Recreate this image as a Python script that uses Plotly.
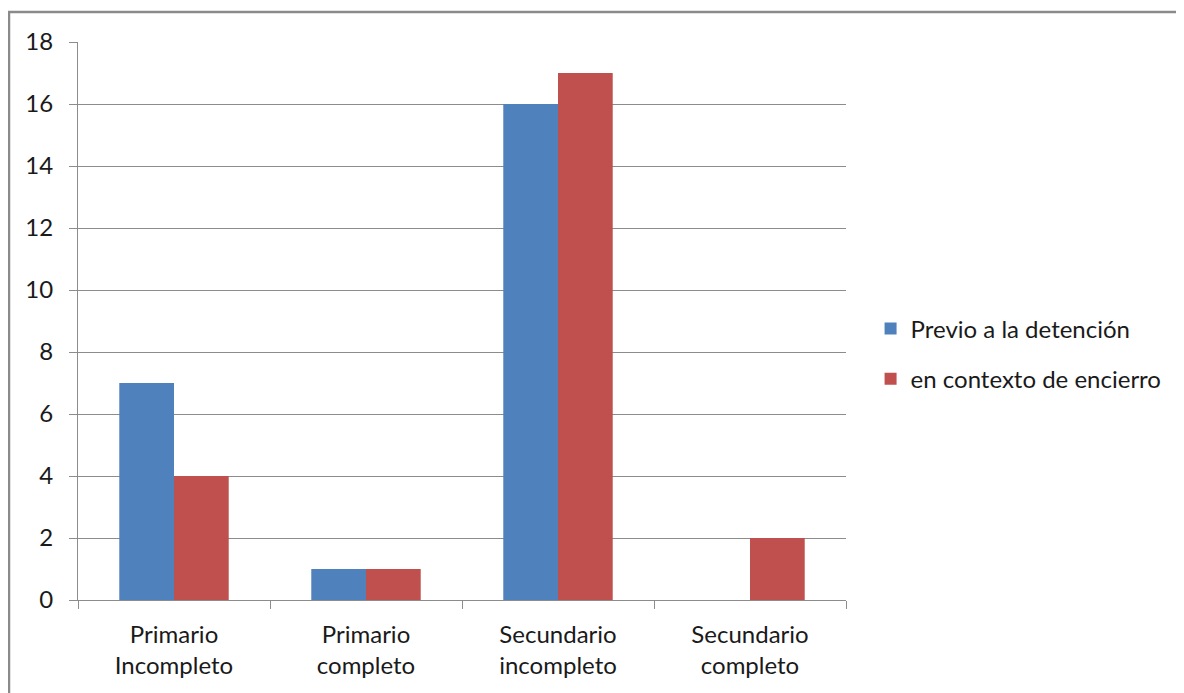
import plotly.graph_objects as go

categories = ["Primario<br>Incompleto", "Primario<br>completo", "Secundario<br>incompleto", "Secundario<br>completo"]
previo = [7, 1, 16, 0]
encierro = [4, 1, 17, 2]
series_names = ["Previo a la detención", "en contexto de encierro"]
y_ticks = [0, 2, 4, 6, 8, 10, 12, 14, 16, 18]

font_family = "Lato, Open Sans, Liberation Sans, sans-serif"
grid_color = "#8c8c8c"
fs = 24

fig = go.Figure()
fig.add_trace(go.Bar(x=categories, y=previo, name=series_names[0], marker_color="#4F81BD",
                     marker_line_width=0, legendgroup="a"))
fig.add_trace(go.Bar(x=categories, y=encierro, name=series_names[1], marker_color="#C0504D",
                     marker_line_width=0, legendgroup="b"))

fig.update_layout(
    width=1184, height=693,
    margin=dict(l=70, r=346, t=34, b=101),
    paper_bgcolor="white", plot_bgcolor="white",
    barmode="group", bargap=0.43, bargroupgap=0,
    font=dict(family=font_family, size=fs, color="#1a1a1a"),
    legend=dict(x=1.032, y=0.441, xanchor="left", yanchor="middle",
                font=dict(size=fs), tracegroupgap=16, traceorder="grouped",
                bgcolor="rgba(0,0,0,0)"),
    xaxis=dict(tickson="boundaries", ticks="outside", ticklen=8, tickcolor=grid_color,
               showline=True, linecolor=grid_color, linewidth=1, showgrid=False,
               tickfont=dict(size=fs), ticklabelstandoff=13),
    yaxis=dict(range=[0, 18], tickvals=y_ticks, ticks="outside", ticklen=8, tickcolor=grid_color,
               showline=True, linecolor=grid_color, linewidth=1, showgrid=True,
               gridcolor=grid_color, gridwidth=1, zeroline=False, tickfont=dict(size=fs),
               ticklabelstandoff=11),
    shapes=[dict(type="rect", xref="paper", yref="paper", x0=(9 - 78) / 768, x1=1.6,
                 y0=-0.5, y1=(600 - 12) / 558, line=dict(color="#8a8a8a", width=2.5),
                 fillcolor="rgba(0,0,0,0)", layer="below")],
)

fig.write_html("out.html")
